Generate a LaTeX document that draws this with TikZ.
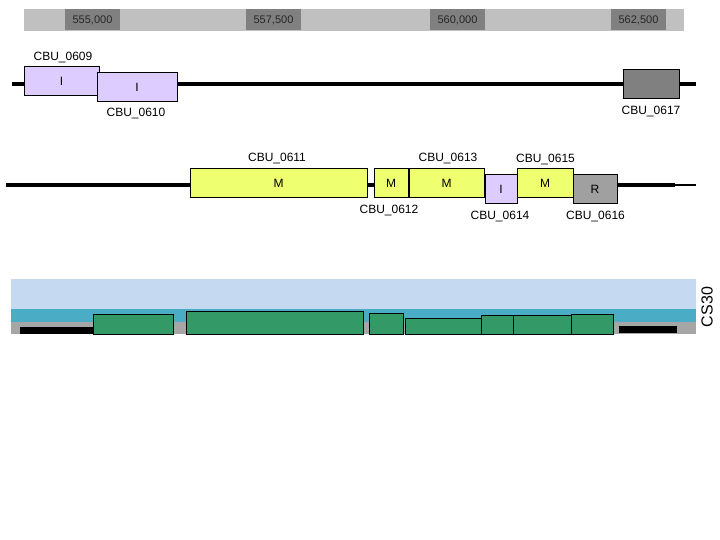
\documentclass[tikz,border=0pt]{standalone}
\usepackage{fontspec}
\setmainfont{Liberation Sans}
\definecolor{rulerlight}{RGB}{192,192,192}
\definecolor{rulerdark}{RGB}{128,128,128}
\definecolor{imp}{RGB}{221,204,255}
\definecolor{mem}{RGB}{238,255,112}
\definecolor{reg}{RGB}{160,160,160}
\definecolor{unk}{RGB}{128,128,128}
\definecolor{bandsky}{RGB}{197,217,241}
\definecolor{bandteal}{RGB}{75,172,198}
\definecolor{bandgrey}{RGB}{166,166,166}
\definecolor{hitgreen}{RGB}{51,153,102}
\tikzset{
  tick/.style={fill=rulerdark, inner sep=0pt, outer sep=0pt, minimum width=55, minimum height=21, text depth=0pt, font=\fontsize{11}{13}\selectfont, text=black!85},
  gene/.style={draw=black, line width=1pt, inner sep=0pt, outer sep=0pt, minimum height=29, font=\fontsize{12}{14}\selectfont},
  lbl/.style={anchor=base, inner sep=0pt, font=\fontsize{12}{14}\selectfont},
  hit/.style={draw=black, line width=1pt, fill=hitgreen}
}
\begin{document}
\begin{tikzpicture}[x=1pt, y=-1pt]
\useasboundingbox (0,0) rectangle (720,540);
% ruler
\fill[rulerlight] (24,9)--(684,9)--(684,31)--(24,31)--cycle;
\node[tick] (r555) at (92.5,19.5) {555,000};
\node[tick] (r557) at (273.5,19.5) {557,500};
\node[tick] (r560) at (457.5,19.5) {560,000};
\node[tick] (r562) at (638.5,19.5) {562,500};
% first track
\coordinate (l1w) at (12,84);
\coordinate (l1e) at (696,84);
\draw[line width=3.5pt] (l1w)--(l1e);
\node[gene, fill=imp, minimum width=75] (g0609) at (61.5,81.5) {I};
\node[gene, fill=imp, minimum width=80] (g0610) at (137,87.5) {I};
\node[gene, fill=unk, minimum width=56] (g0617) at (651,84.5) {};
\node[lbl] (t0609) at (63,61) {CBU\_0609};
\node[lbl] (t0610) at (136,117) {CBU\_0610};
\node[lbl] (t0617) at (651,115) {CBU\_0617};
% second track
\coordinate (l2w) at (6,185);
\coordinate (l2m) at (675,185);
\coordinate (l2e) at (696,185);
\draw[line width=3.5pt] (l2w)--(l2m);
\draw[line width=2pt] (l2m)--(l2e);
\node[gene, fill=mem, minimum width=177] (g0611) at (278.5,183.5) {M};
\node[gene, fill=mem, minimum width=34] (g0612) at (391,183.5) {M};
\node[gene, fill=mem, minimum width=75] (g0613) at (446.5,183.5) {M};
\node[gene, fill=imp, minimum width=32] (g0614) at (501,189.5) {I};
\node[gene, fill=mem, minimum width=56] (g0615) at (545,183.5) {M};
\node[gene, fill=reg, minimum width=44] (g0616) at (595,189.5) {R};
\node[lbl] (t0611) at (277,162) {CBU\_0611};
\node[lbl] (t0613) at (448,162) {CBU\_0613};
\node[lbl] (t0615) at (545.5,163) {CBU\_0615};
\node[lbl] (t0612) at (389,214) {CBU\_0612};
\node[lbl] (t0614) at (500,219) {CBU\_0614};
\node[lbl] (t0616) at (595.5,219) {CBU\_0616};
% expression bands
\fill[bandsky] (11,279) rectangle (696,309);
\fill[bandteal] (11,309) rectangle (696,322);
\fill[bandgrey] (11,322) rectangle (696,334);
\fill[black] (20,327) rectangle (97,334);
\fill[black] (619,326) rectangle (677,333);
\draw[hit] (93,314) rectangle (173,334);
\draw[hit] (186,311) rectangle (363,334);
\draw[hit] (369,313) rectangle (403,334);
\draw[hit] (405,318) rectangle (481,334);
\draw[hit] (481,315) rectangle (513,334);
\draw[hit] (513,315) rectangle (571,334);
\draw[hit] (571,314) rectangle (613,334);
\node[rotate=90, inner sep=0pt, font=\fontsize{16}{18}\selectfont] (cs30) at (707,307) {CS30};
\end{tikzpicture}
\end{document}
